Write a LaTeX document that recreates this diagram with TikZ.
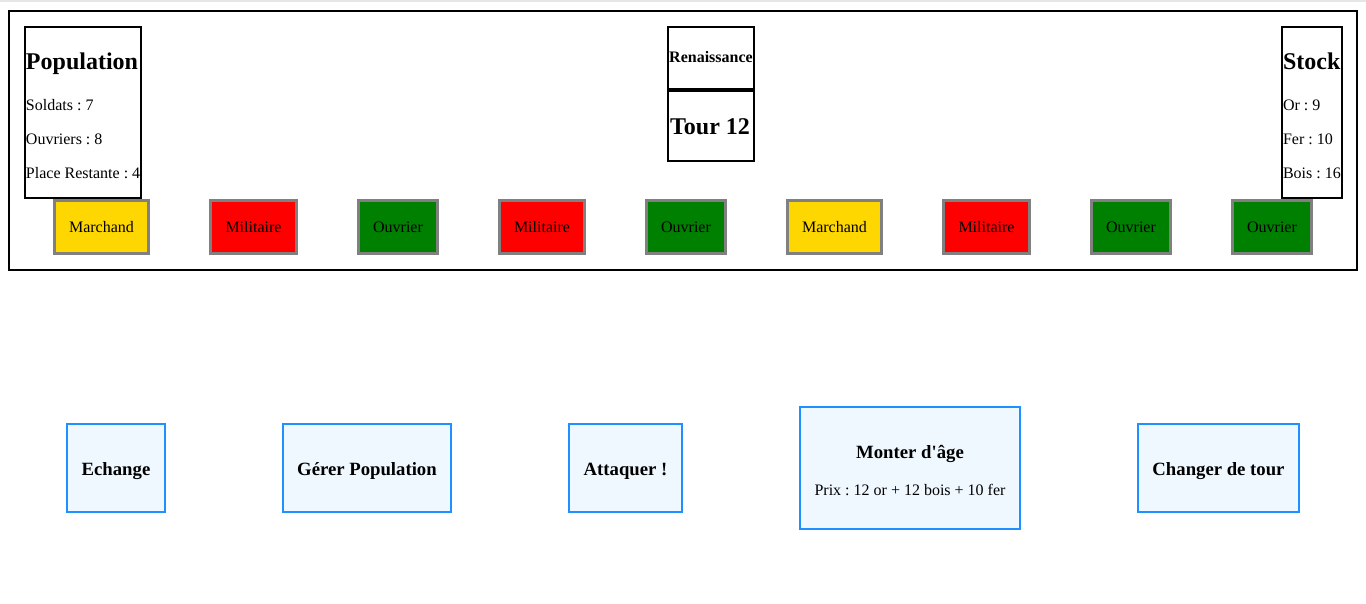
\documentclass[tikz,border=0pt]{standalone}
\usepackage{fontspec}
\setmainfont{Liberation Serif}
\newfontfamily\rawserif{Liberation Serif}
\definecolor{gold}{HTML}{FFD700}
\definecolor{pxred}{HTML}{FF0000}
\definecolor{pxgreen}{HTML}{008000}
\definecolor{pxgray}{HTML}{808080}
\definecolor{dodger}{HTML}{1E90FF}
\definecolor{alice}{HTML}{F0F8FF}
\definecolor{topline}{HTML}{E6E6E6}
\newcommand\fs[1]{\fontsize{#1}{#1}\selectfont}
% #1 style, #2 name, #3 x1, #4 y1, #5 x2, #6 y2 (outer edges, px), #7 border px, #8 text
\newcommand\pxbox[8]{%
  \pgfmathsetmacro\pxcx{(#3+#5)/2}%
  \pgfmathsetmacro\pxcy{(#4+#6)/2}%
  \pgfmathsetmacro\pxw{(#5-#3-#7)*0.75}%
  \pgfmathsetmacro\pxh{(#6-#4-#7)*0.75}%
  \pgfmathsetmacro\pxlw{#7*0.75}%
  \node[#1, line width=\pxlw pt, minimum width=\pxw pt, minimum height=\pxh pt] (#2) at (\pxcx,\pxcy) {};
  \node[#1, draw=none, fill=none, anchor=base] (#2-t) at (\pxcx,\pxbase) {#8};}
\newcommand\pxbase{0}
\frenchspacing
\begin{document}
\begin{tikzpicture}[x=0.75pt,y=-0.75pt,
  every node/.style={inner sep=0pt, outer sep=0pt},
  panel/.style={draw=black, fill=none},
  role/.style={draw=pxgray, font=\fs{12}},
  marchand/.style={role, fill=gold},
  militaire/.style={role, fill=pxred},
  ouvrier/.style={role, fill=pxgreen},
  action/.style={draw=dodger, fill=alice, font=\bfseries\fs{14.04}},
  txt/.style={font=\fs{12}},
  head/.style={font=\bfseries\fs{18}},
]
\useasboundingbox (0,0) rectangle (1366,603);
\fill[white] (0,0) rectangle (1366,603);
\coordinate (tl) at (0,1);
\coordinate (tr) at (1366,1);
\draw[topline, line width=1.5pt] (tl) -- (tr);

% outer frame
\pxbox{panel}{frame}{8}{10}{1358}{271}{2}{}

% Population panel
\pxbox{panel}{pop}{24}{26}{142}{199}{2}{}
\node[head, anchor=base west] (popT) at (26,69) {Population};
\node[txt, anchor=base west] (popS) at (26,110) {Soldats : 7};
\node[txt, anchor=base west] (popO) at (26,144) {Ouvriers : 8};
\node[txt, anchor=base west] (popP) at (26,178) {Place Restante : 4};

% Age / Tour
\pxbox{panel}{age}{667}{26}{755}{90.5}{2}{}
\pxbox{panel}{tour}{667}{88.5}{755}{162}{2}{}
\draw[line width=3pt] (age.south west) -- (age.south east);
\node[font=\bfseries\fs{12}, anchor=base] (ageT) at (711,62.5) {Renaissance};
\node[head, anchor=base] (tourT) at (710,134) {Tour 12};

% Stock panel
\pxbox{panel}{stock}{1281}{26}{1343}{199}{2}{}
\node[head, anchor=base west] (stT) at (1283,69) {Stock};
\node[txt, anchor=base west] (stO) at (1283,110) {Or : 9};
\node[txt, anchor=base west] (stF) at (1283,144) {Fer : 10};
\node[txt, anchor=base west] (stB) at (1283,178) {Bois : 16};

% roles
\renewcommand\pxbase{232}
\pxbox{marchand}{r1}{53}{199}{150}{255}{3}{Marchand}
\pxbox{militaire}{r2}{209}{199}{298}{255}{3}{Militaire}
\pxbox{ouvrier}{r3}{357}{199}{439}{255}{3}{Ouvrier}
\pxbox{militaire}{r4}{498}{199}{586}{255}{3}{Militaire}
\pxbox{ouvrier}{r5}{645}{199}{727}{255}{3}{Ouvrier}
\pxbox{marchand}{r6}{786}{199}{883}{255}{3}{Marchand}
\pxbox{militaire}{r7}{942}{199}{1031}{255}{3}{Militaire}
\pxbox{ouvrier}{r8}{1090}{199}{1172}{255}{3}{Ouvrier}
\pxbox{ouvrier}{r9}{1231}{199}{1313}{255}{3}{Ouvrier}

% actions
\renewcommand\pxbase{475}
\pxbox{action}{a1}{66}{423}{166}{513}{2}{Echange}
\pxbox{action}{a2}{282}{423}{452}{513}{2}{Gérer Population}
\pxbox{action}{a3}{568}{423}{683}{513}{2}{Attaquer !}
\pxbox{action}{a5}{1137}{423}{1300}{513}{2}{Changer de tour}
\renewcommand\pxbase{458}
\pxbox{action}{a4}{799}{406}{1021}{530}{2}{{\rawserif\bfseries Monter d'âge}}
\node[txt, anchor=base] (a4P) at (910,495) {Prix : 12 or + 12 bois + 10 fer};
\end{tikzpicture}
\end{document}
